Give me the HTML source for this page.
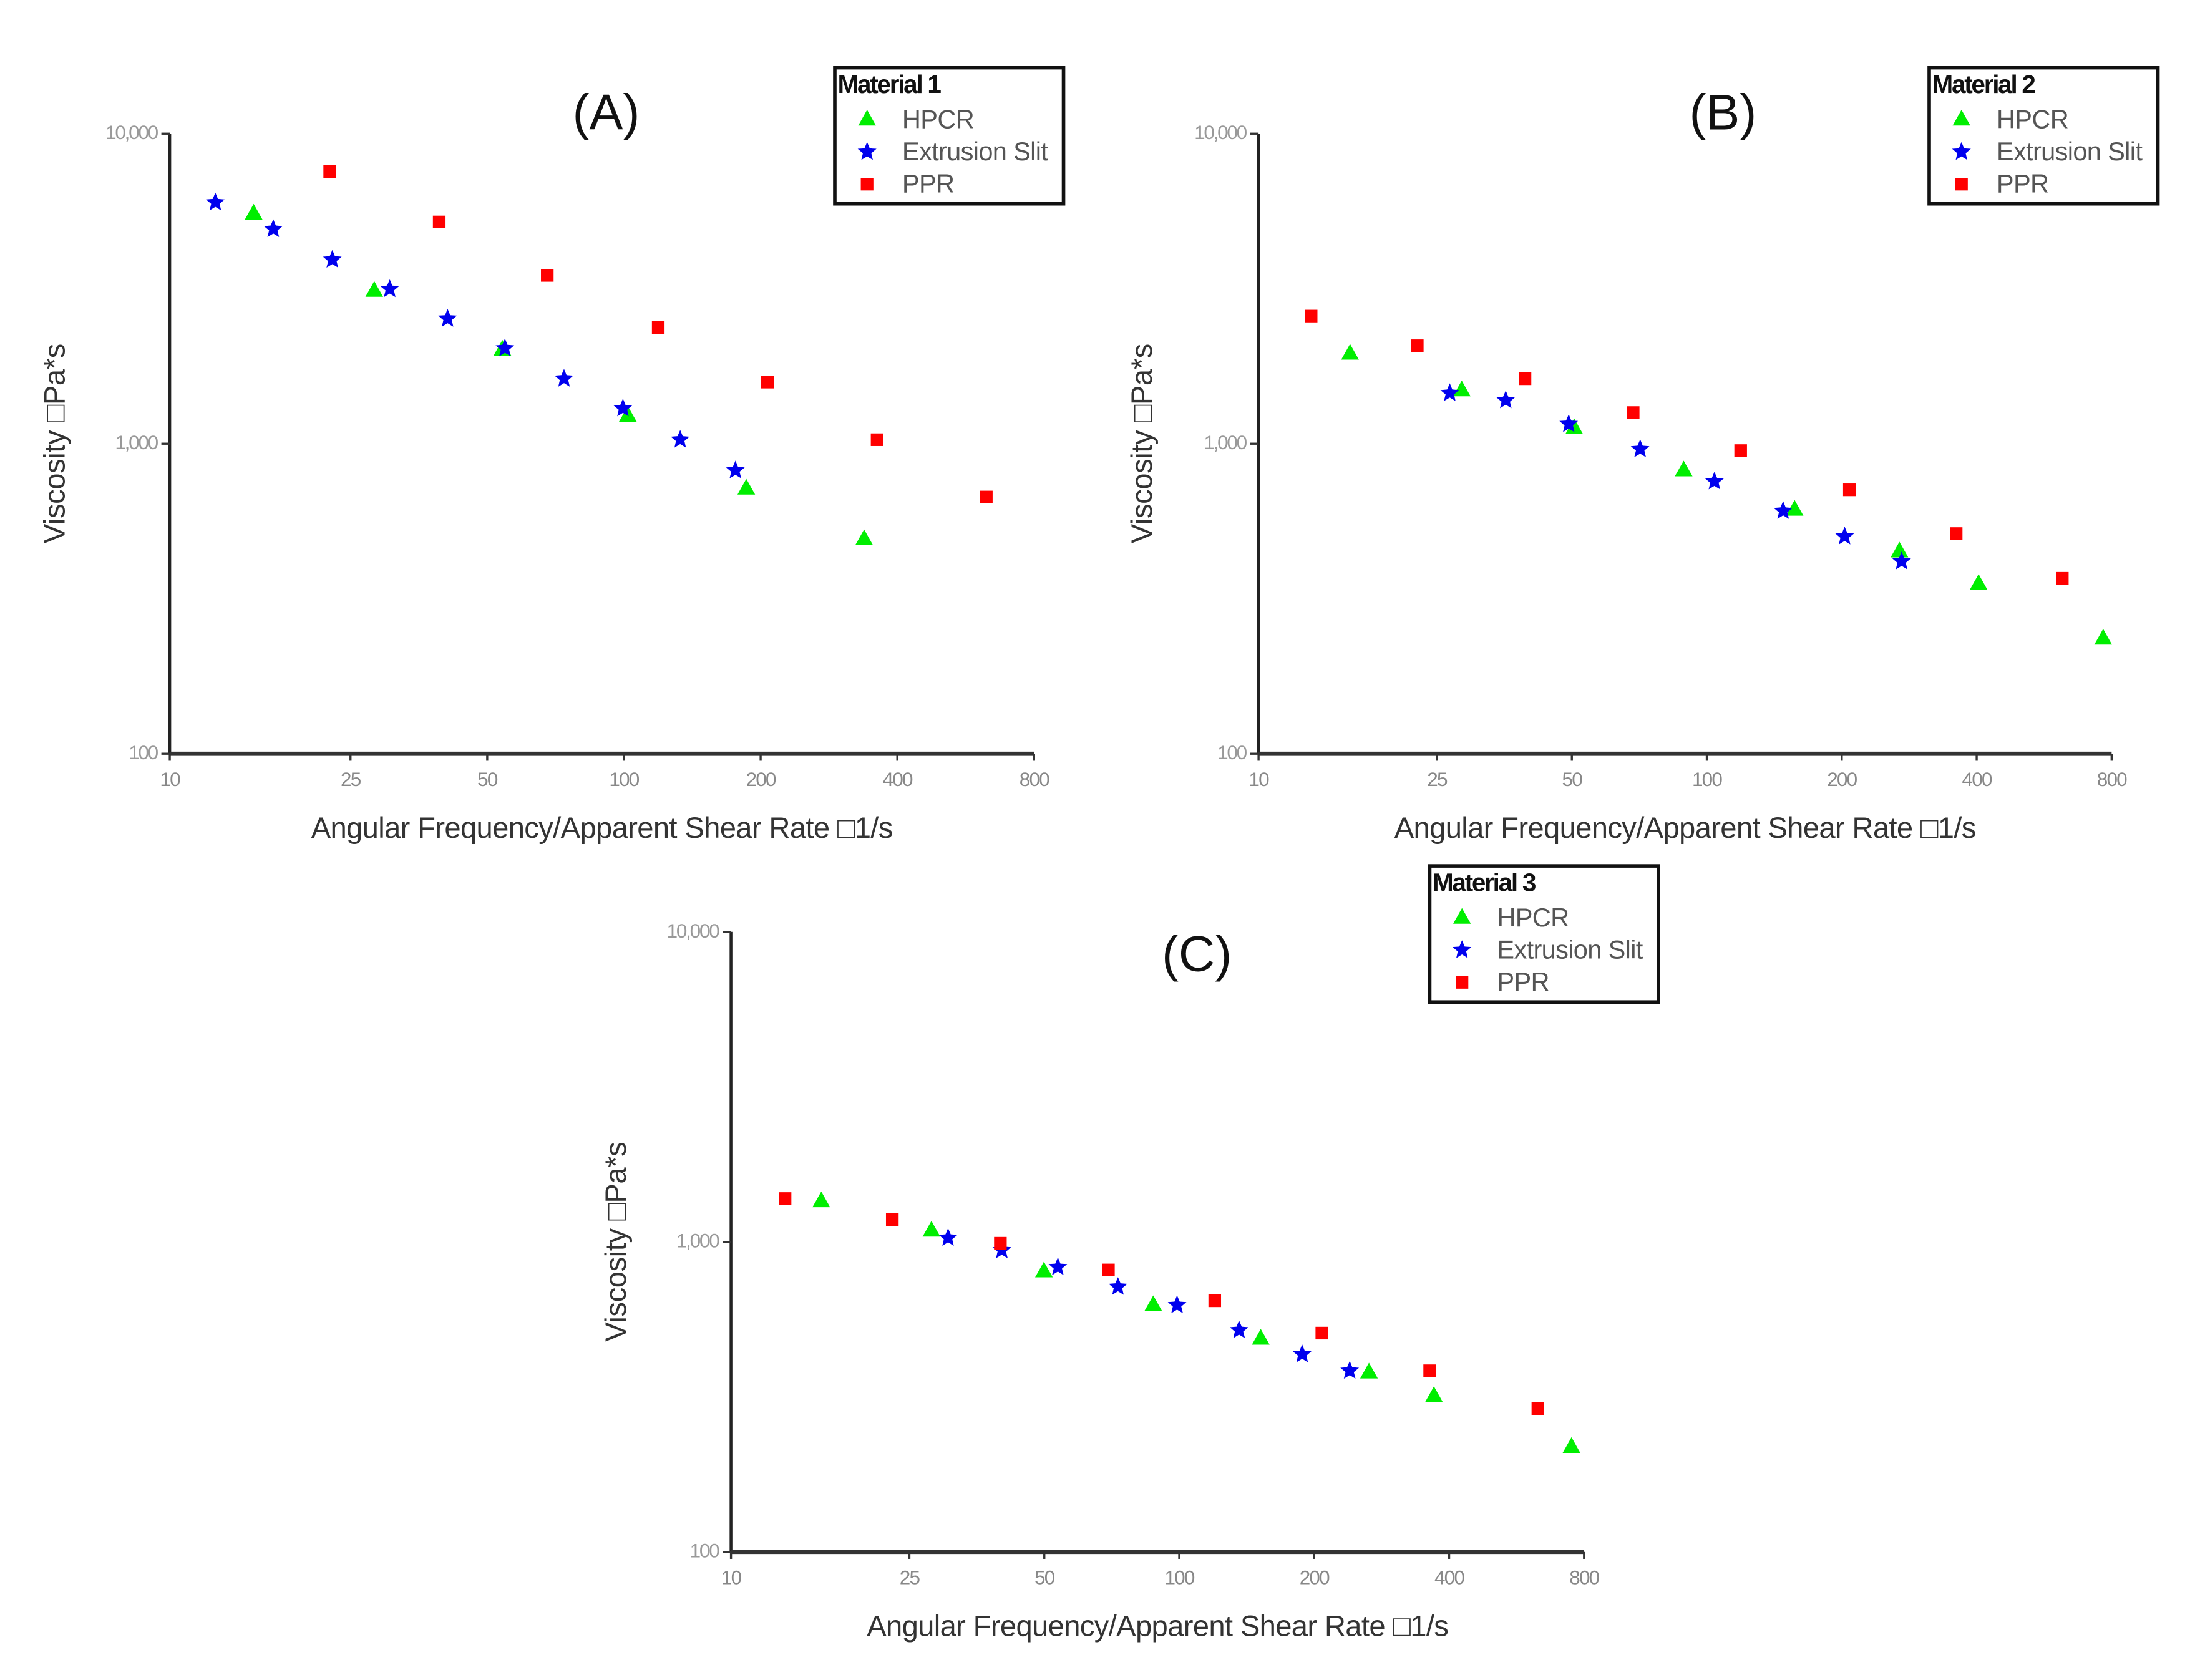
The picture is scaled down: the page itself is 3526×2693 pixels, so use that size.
<!DOCTYPE html>
<html><head><meta charset="utf-8"><style>
html,body{margin:0;padding:0;background:#fff;}
svg{display:block;}
text{font-family:"Liberation Sans",sans-serif;}
</style></head><body>
<svg id="fig" width="3526" height="2693" viewBox="0 0 1568 1197" xmlns="http://www.w3.org/2000/svg"></svg>
<script>
// ---- Data (x = shear rate 1/s, y = viscosity Pa*s) ----
const xTicks = [10, 25, 50, 100, 200, 400, 800];
const xTickLabels = ["10", "25", "50", "100", "200", "400", "800"];
const yTicks = [100, 1000, 10000];
const yTickLabels = ["100", "1,000", "10,000"];
const seriesNames = ["HPCR", "Extrusion Slit", "PPR"];

const aHpcrX = [15.3, 28.2, 54, 102, 186, 338];
const aHpcrY = [5520, 3110, 2010, 1230, 716, 492];
const aSlitX = [12.6, 16.9, 22.8, 30.5, 40.9, 54.7, 73.8, 99.5, 133, 176];
const aSlitY = [6000, 4920, 3920, 3150, 2530, 2030, 1620, 1300, 1030, 820];
const aPprX = [22.5, 39.2, 67.8, 119, 207, 361, 628];
const aPprY = [7550, 5190, 3490, 2370, 1580, 1030, 673];

const bHpcrX = [16, 28.4, 50.6, 88.8, 157, 269, 404, 766];
const bHpcrY = [1950, 1486, 1122, 820, 612, 449, 353, 235];
const bSlitX = [26.7, 35.6, 49.2, 71, 104, 148, 203, 272];
const bSlitY = [1456, 1380, 1157, 960, 755, 607, 502, 417];
const bPprX = [13.1, 22.6, 39.3, 68.5, 119, 208, 360, 621];
const bPprY = [2580, 2070, 1620, 1260, 950, 710, 513, 368];

const cHpcrX = [15.9, 28, 49.9, 87.5, 152, 265, 370, 750];
const cHpcrY = [1352, 1087, 803, 625, 487, 379, 318, 218];
const cSlitX = [30.5, 40.2, 53.6, 73, 98.9, 136, 188, 240];
const cSlitY = [1030, 940, 829, 716, 625, 519, 434, 384];
const cPprX = [13.2, 22.9, 39.9, 69.5, 120, 208, 362, 631];
const cPprY = [1380, 1180, 990, 812, 646, 508, 384, 290];

const NS = "http://www.w3.org/2000/svg";
const svg = document.getElementById("fig");
function mk(tag, attrs, parent) {
  const e = document.createElementNS(NS, tag);
  for (const k in attrs) e.setAttribute(k, attrs[k]);
  (parent || svg).appendChild(e);
  return e;
}
function tri(g, x, y, s) { return mk("polygon", {points: `${x},${y-s} ${x-s*0.9},${y+s*0.6} ${x+s*0.9},${y+s*0.6}`, fill: "#00ee00"}, g); }
function star(g, x, y, r) {
  let p = [];
  for (let i = 0; i < 10; i++) { const a = -Math.PI/2 + i*Math.PI/5; const rr = i%2 ? r*0.45 : r; p.push((x+rr*Math.cos(a)).toFixed(1)+","+(y+rr*Math.sin(a)).toFixed(1)); }
  return mk("polygon", {points: p.join(" "), fill: "#0000ee"}, g);
}
function sq(g, x, y, s) { return mk("rect", {x: x-s/2, y: y-s/2, width: s, height: s, fill: "#ff0000"}, g); }

function panel(id, x0, x1, yTop, yBot, title, titleX, titleY, ylabX, legX, legY, legTitle, hx, hy, sx, sy, px, py) {
  const g = mk("g", {});
  
  
  const lx = Math.log10(10), rx = Math.log10(800);
  const X = v => x0 + (Math.log10(v) - lx) / (rx - lx) * (x1 - x0);
  const Y = v => yBot - (Math.log10(v) - 2) / 2 * (yBot - yTop);
  const ax = mk("line", {x1: x0, y1: yTop, x2: x0, y2: yBot, stroke: "#222", "stroke-width": 2}, g);
  
  
  const axx = mk("line", {x1: x0, y1: yBot, x2: x1, y2: yBot, stroke: "#333", "stroke-width": 3}, g);
  
  
  xTicks.forEach((v, i) => {
    mk("line", {x1: X(v), y1: yBot, x2: X(v), y2: yBot + 5, stroke: "#333", "stroke-width": 1.5}, g);
    const t = mk("text", {x: X(v), y: yBot + 23, "text-anchor": "middle", "font-size": 14, fill: "#888", "letter-spacing": "-0.8"}, g);
    t.textContent = xTickLabels[i];
    
    
  });
  yTicks.forEach((v, i) => {
    mk("line", {x1: x0 - 6, y1: Y(v), x2: x0, y2: Y(v), stroke: "#333", "stroke-width": 1.5}, g);
    const t = mk("text", {x: x0 - 9, y: Y(v) + 4, "text-anchor": "end", "font-size": 14, fill: "#999", "letter-spacing": "-1"}, g);
    t.textContent = yTickLabels[i];
    
    
  });
  const xt = mk("text", {x: (x0 + x1) / 2 + 0, y: yBot + 60, "text-anchor": "middle", "font-size": 21, fill: "#333", "letter-spacing": "-0.3"}, g);
  xt.textContent = "Angular Frequency/Apparent Shear Rate \u25A11/s";
  
  
  const yc = (yTop + yBot) / 2;
  const yt = mk("text", {x: ylabX, y: yc, "text-anchor": "middle", "font-size": 21, fill: "#333", "letter-spacing": "-0.2", transform: `rotate(-90 ${ylabX} ${yc})`}, g);
  yt.textContent = "Viscosity \u25A1Pa*s";
  
  
  const tt = mk("text", {x: titleX, y: titleY, "text-anchor": "middle", "font-size": 36, fill: "#111"}, g);
  tt.textContent = title;
  
  
  hx.forEach((v, i) => { const m = tri(g, X(v), Y(hy[i]), 7);
    
     });
  sx.forEach((v, i) => { const m = star(g, X(v), Y(sy[i]), 7);
    
     });
  px.forEach((v, i) => { const m = sq(g, X(v), Y(py[i]), 9);
    
     });
  const lg = mk("g", {}, g);
  
  
  mk("rect", {x: legX, y: legY, width: 163, height: 97, fill: "#fff", stroke: "#111", "stroke-width": 2.5}, lg);
  const lt = mk("text", {x: legX + 2, y: legY + 18, "font-size": 18, "font-weight": "bold", fill: "#111", "letter-spacing": "-1"}, lg);
  lt.textContent = legTitle;
  
  
  seriesNames.forEach((n, i) => {
    const yy = legY + 37 + i * 23;
    if (i === 0) tri(lg, legX + 23, yy, 7); else if (i === 1) star(lg, legX + 23, yy, 7); else sq(lg, legX + 23, yy, 9);
    const e = mk("text", {x: legX + 48, y: yy + 6, "font-size": 18.5, fill: "#555", "letter-spacing": "-0.3"}, lg);
    e.textContent = n;
    
    
  });
}

panel("a", 121, 737, 95, 537, "(A)", 432, 92, 46, 595, 48, "Material 1", aHpcrX, aHpcrY, aSlitX, aSlitY, aPprX, aPprY);
panel("b", 897, 1505, 95, 537, "(B)", 1228, 92, 821, 1375, 48, "Material 2", bHpcrX, bHpcrY, bSlitX, bSlitY, bPprX, bPprY);
panel("c", 521, 1129, 664, 1106, "(C)", 853, 692, 446, 1019, 617, "Material 3", cHpcrX, cHpcrY, cSlitX, cSlitY, cPprX, cPprY);
</script>
</body></html>
